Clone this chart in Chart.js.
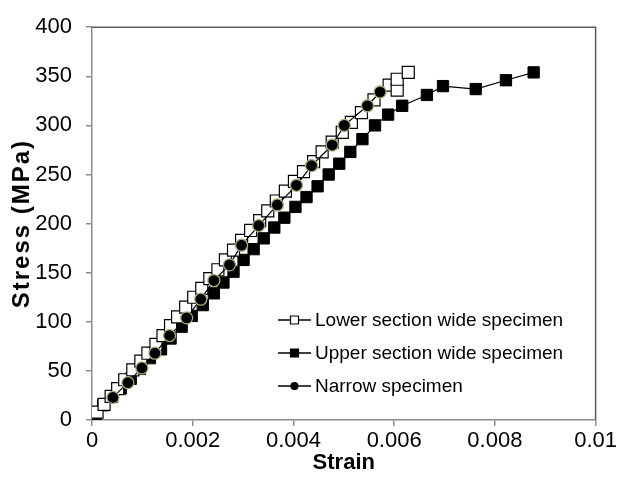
<!DOCTYPE html>
<html>
<head>
<meta charset="utf-8">
<script src="https://cdn.jsdelivr.net/npm/chart.js@4"></script>
<style>
html,body{margin:0;padding:0;background:#fff;}
#wrap{width:619px;height:498px;}
</style>
</head>
<body>
<div id="wrap"><canvas id="c" width="619" height="498"></canvas></div>
<script>
// ---- data ----
const seriesNames = ['Lower section wide specimen', 'Upper section wide specimen', 'Narrow specimen'];

const lowerStrain = [0.0001,0.00024,0.00038,0.00051,0.00065,0.00081,0.00097,0.00111,0.00127,0.00141,0.00156,0.0017,0.00186,0.00202,0.00218,0.00234,0.0025,0.00265,0.00281,0.00297,0.00315,0.00333,0.00349,0.00366,0.00384,0.00402,0.0042,0.0044,0.00457,0.00477,0.00497,0.00515,0.00535,0.0056,0.0059,0.00606,0.00606,0.00628];
const lowerStress = [8,16,24,32,41,51,60,68,77,86,96,105,115,125,134,144,153,163,173,183,193,203,213,223,233,243,253,263,273,283,293,303,313,326,341,336,347,354];

const upperStrain = [0.00008,0.00022,0.0004,0.00057,0.00077,0.00095,0.00115,0.00137,0.00156,0.00178,0.00198,0.0022,0.00242,0.00261,0.00281,0.00301,0.00321,0.00341,0.00362,0.00382,0.00404,0.00426,0.00448,0.0047,0.00491,0.00513,0.00537,0.00562,0.00588,0.00616,0.00665,0.00697,0.00762,0.00822,0.00877];
const upperStress = [6,15,24,32,42,52,63,72,83,95,106,117,129,140,151,163,174,185,196,206,217,227,238,250,261,273,286,300,311,320,331,340,337,346,354];

const narrowStrain = [0.000416,0.000713,0.00099,0.00125,0.00154,0.00188,0.00216,0.00242,0.00273,0.00297,0.00331,0.00368,0.00406,0.00436,0.00477,0.00501,0.00547,0.00572];
const narrowStress = [23,38,53,68,86,104,123,142,158,178,198,219,239,259,280,300,320,334];

const xTickLabels = ['0','0.002','0.004','0.006','0.008','0.01'];
const yTickLabels = ['0','50','100','150','200','250','300','350','400'];
const xTitle = 'Strain';
const yTitle = 'Stress (MPa)';

const toPts = (xs, ys) => xs.map((x, i) => ({x: x, y: ys[i]}));
const FONT = '"Liberation Sans", Arial, sans-serif';

const legendPlugin = {
  id: 'insideLegend',
  afterDraw(chart) {
    const ctx = chart.ctx;
    const rows = [320, 353, 386];
    const styles = [
      {shape: 'rect', fill: '#ffffff', stroke: '#000000', size: 8},
      {shape: 'rect', fill: '#000000', stroke: '#000000', size: 8},
      {shape: 'circle', fill: '#000000', stroke: '#000000', size: 7}
    ];
    ctx.save();
    ctx.font = '19px ' + FONT;
    ctx.textBaseline = 'middle';
    seriesNames.forEach((name, i) => {
      const y = rows[i];
      ctx.strokeStyle = '#000';
      ctx.lineWidth = 1.3;
      ctx.beginPath();
      ctx.moveTo(278, y);
      ctx.lineTo(311, y);
      ctx.stroke();
      const s = styles[i];
      ctx.fillStyle = s.fill;
      ctx.strokeStyle = s.stroke;
      ctx.lineWidth = 1.2;
      ctx.beginPath();
      if (s.shape === 'rect') {
        ctx.rect(294.5 - s.size / 2, y - s.size / 2, s.size, s.size);
      } else {
        ctx.arc(294.5, y, s.size / 2, 0, Math.PI * 2);
      }
      ctx.fill();
      ctx.stroke();
      ctx.fillStyle = '#000';
      ctx.fillText(name, 315, y + 1);
    });
    ctx.restore();
  }
};

const yTitlePlugin = {
  id: 'yTitle',
  afterDraw(chart) {
    const a = chart.chartArea;
    const ctx = chart.ctx;
    ctx.save();
    ctx.translate(22, (a.top + a.bottom) / 2);
    ctx.rotate(-Math.PI / 2);
    ctx.font = 'bold 24px ' + FONT;
    try { ctx.letterSpacing = '2px'; } catch (e) {}
    ctx.textAlign = 'center';
    ctx.textBaseline = 'middle';
    ctx.fillStyle = '#000';
    ctx.fillText(yTitle, 0, 0);
    ctx.restore();
  }
};

const framePlugin = {
  id: 'frame',
  beforeDatasetsDraw(chart) {
    const a = chart.chartArea;
    const ctx = chart.ctx;
    ctx.save();
    ctx.strokeStyle = '#5a5a5a';
    ctx.lineWidth = 1.5;
    ctx.beginPath();
    ctx.moveTo(a.left, a.top);
    ctx.lineTo(a.right, a.top);
    ctx.lineTo(a.right, a.bottom);
    ctx.stroke();
    ctx.restore();
  }
};

new Chart(document.getElementById('c'), {
  type: 'scatter',
  data: {
    datasets: [
      {
        label: seriesNames[0],
        data: toPts(lowerStrain, lowerStress),
        showLine: true,
        borderColor: '#000',
        borderWidth: 1.2,
        pointStyle: 'rect',
        pointRadius: 8.5,
        pointBackgroundColor: '#ffffff',
        pointBorderColor: '#000',
        pointBorderWidth: 1.2,
        order: 1
      },
      {
        label: seriesNames[1],
        data: toPts(upperStrain, upperStress),
        showLine: true,
        borderColor: '#000',
        borderWidth: 1.2,
        pointStyle: 'rect',
        pointRadius: 8,
        pointBackgroundColor: '#000',
        pointBorderColor: '#000',
        pointBorderWidth: 1,
        order: 2
      },
      {
        label: seriesNames[2],
        data: toPts(narrowStrain, narrowStress),
        showLine: true,
        borderColor: '#000',
        borderWidth: 1.2,
        pointStyle: 'circle',
        pointRadius: 6,
        pointBackgroundColor: '#000',
        pointBorderColor: '#a4ab73',
        pointBorderWidth: 1.3,
        order: 0
      }
    ]
  },
  options: {
    responsive: false,
    animation: false,
    devicePixelRatio: 1,
    layout: {padding: {left: 0, right: 22, top: 17, bottom: 0}},
    plugins: {legend: {display: false}, tooltip: {enabled: false}},
    scales: {
      x: {
        type: 'linear',
        min: 0, max: 0.01,
        afterFit(s) { s.height = 78; },
        border: {display: true, color: '#8c8c8c', width: 1.5},
        grid: {drawOnChartArea: false, drawTicks: true, tickLength: 6, color: '#8c8c8c', lineWidth: 1.5},
        ticks: {
          stepSize: 0.002,
          padding: 2,
          color: '#000',
          font: {family: FONT, size: 22},
          maxRotation: 0,
          callback: (v) => xTickLabels[Math.round(v / 0.002)]
        },
        title: {
          display: true, text: xTitle, color: '#000',
          font: {family: FONT, size: 22, weight: 'bold'},
          padding: {top: 0, bottom: 22}
        }
      },
      y: {
        type: 'linear',
        min: 0, max: 400,
        afterFit(s) { s.width = 92; },
        border: {display: true, color: '#8c8c8c', width: 1.5},
        grid: {drawOnChartArea: false, drawTicks: true, tickLength: 6, color: '#8c8c8c', lineWidth: 1.5},
        ticks: {
          stepSize: 50,
          padding: 14,
          color: '#000',
          font: {family: FONT, size: 22},
          callback: (v) => yTickLabels[Math.round(v / 50)]
        },
        title: {display: false}
      }
    }
  },
  plugins: [framePlugin, legendPlugin, yTitlePlugin]
});
</script>
</body>
</html>
